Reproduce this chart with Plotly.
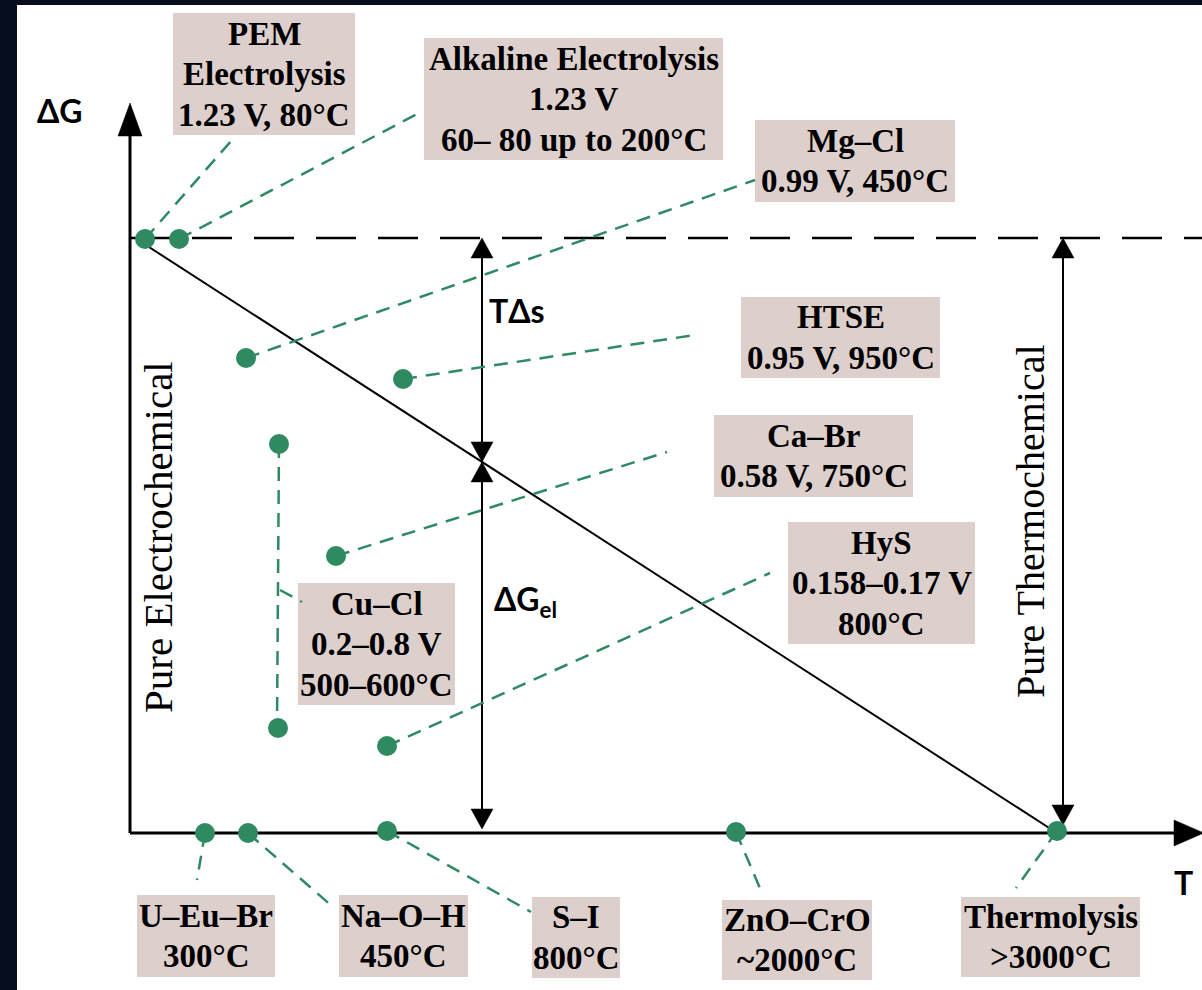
import plotly.graph_objects as go

# ---------------- data (T = temperature axis units, G = free-energy axis units) -------------
point_names = ["PEM", "Alkaline", "Mg–Cl", "HTSE", "Cu–Cl high", "Cu–Cl low", "Ca–Br",
               "HyS", "U–Eu–Br", "Na–O–H", "S–I", "ZnO–CrO", "Thermolysis"]
point_T = [15, 49, 116, 273, 149, 148, 206, 257, 75, 118, 257, 606, 927]
point_G = [594, 594, 475, 454, 389, 105, 277, 87, 0, 0, 2, 1, 2]

# leader lines: start (T,G) -> end (T,G)
leader_T0 = [15, 49, 116, 273, 149, 150, 206, 257, 75, 118, 257, 606, 927]
leader_G0 = [594, 594, 475, 454, 389, 243, 277, 87, 0, 0, 2, 1, 2]
leader_T1 = [102, 287, 625, 565, 147, 172, 537, 640, 67, 203, 401, 632, 886]
leader_G1 = [693, 719, 653, 498, 105, 231, 381, 260, -47, -74, -79, -60, -55]

box_labels = [
    "PEM<br>Electrolysis<br>1.23 V, 80°C",
    "Alkaline Electrolysis<br>1.23 V<br>60– 80 up to 200°C",
    "Mg–Cl<br>0.99 V, 450°C",
    "HTSE<br>0.95 V, 950°C",
    "Ca–Br<br>0.58 V, 750°C",
    "HyS<br>0.158–0.17 V<br>800°C",
    "Cu–Cl<br>0.2–0.8 V<br>500–600°C",
    "U–Eu–Br<br>300°C",
    "Na–O–H<br>450°C",
    "S–I<br>800°C",
    "ZnO–CrO<br>~2000°C",
    "Thermolysis<br>>3000°C",
]
box_T0 = [43, 294, 625, 611, 584, 658, 168, 7, 209, 402, 592, 831]
box_T1 = [225, 593, 825, 810, 783, 845, 325, 145, 338, 490, 742, 1010]
box_G0 = [698, 673, 631, 455, 336, 189, 128, -144, -144, -145, -147, -144]
box_G1 = [820, 795, 713, 536, 418, 311, 250, -62, -62, -64, -67, -64]

G_max = 595          # ΔG level (dashed line)
T_end = 927          # temperature where ΔG reaches zero
T_line_start = 5
T_axis_end = 1074
G_axis_end = 730
T_mid_arrow = 352
T_right_arrow = 933

# ---------------- styles ----------------
BG_DARK = "#060d1c"
GREEN = "#2f8a62"
BOX_FILL = "#dccfcc"
SERIF = "Liberation Serif, Times New Roman, serif"
SANS = "Lato, Open Sans, sans-serif"
BOX_FONT = 33
LINE_STEP = 40.5

fig = go.Figure()


def tri(tip_x, tip_y, direction, length, width):
    h = width / 2
    if direction == "up":
        return [tip_x, tip_x - h, tip_x + h, tip_x, None], [tip_y, tip_y - length, tip_y - length, tip_y, None]
    if direction == "down":
        return [tip_x, tip_x - h, tip_x + h, tip_x, None], [tip_y, tip_y + length, tip_y + length, tip_y, None]
    return [tip_x, tip_x - length, tip_x - length, tip_x, None], [tip_y, tip_y - h, tip_y + h, tip_y, None]


# axes lines
fig.add_trace(go.Scatter(x=[0, 0, None, 0, T_axis_end - 28], y=[G_axis_end - 30, 0, None, 0, 0],
                         mode="lines", line=dict(color="black", width=3), hoverinfo="skip"))
# dashed ΔG level
fig.add_trace(go.Scatter(x=[0, T_axis_end], y=[G_max, G_max], mode="lines",
                         line=dict(color="black", width=2.5, dash="40px,22px"), hoverinfo="skip"))
# diagonal
fig.add_trace(go.Scatter(x=[T_line_start, T_end], y=[G_max, 0], mode="lines",
                         line=dict(color="black", width=2), hoverinfo="skip"))
# double arrows
G_cross = G_max * (1 - (T_mid_arrow - T_line_start) / (T_end - T_line_start))
fig.add_trace(go.Scatter(x=[T_mid_arrow, T_mid_arrow, None, T_right_arrow, T_right_arrow],
                         y=[G_max - 10, 6, None, G_max - 10, 10], mode="lines",
                         line=dict(color="black", width=2), hoverinfo="skip"))

ax_x, ax_y = [], []
for tx, ty, d, L, W in [
    (0, G_axis_end, "up", 33, 24),
    (T_axis_end, 0, "right", 30, 26),
    (T_mid_arrow, G_max, "up", 20, 22),
    (T_mid_arrow, G_cross, "down", 20, 22),
    (T_mid_arrow, G_cross, "up", 20, 22),
    (T_mid_arrow, 4, "down", 20, 22),
    (T_right_arrow, G_max, "up", 20, 22),
    (T_right_arrow, 8, "down", 20, 22),
]:
    xs, ys = tri(tx, ty, d, L, W)
    ax_x += xs
    ax_y += ys
fig.add_trace(go.Scatter(x=ax_x, y=ax_y, mode="lines", fill="toself", fillcolor="black",
                         line=dict(color="black", width=0.5), hoverinfo="skip"))

# leader lines
lx, ly = [], []
for a, b, c, d in zip(leader_T0, leader_G0, leader_T1, leader_G1):
    lx += [a, c, None]
    ly += [b, d, None]
fig.add_trace(go.Scatter(x=lx, y=ly, mode="lines",
                         line=dict(color=GREEN, width=2.5, dash="14px,9px"), hoverinfo="skip"))

# points
fig.add_trace(go.Scatter(x=point_T, y=point_G, mode="markers", text=point_names,
                         marker=dict(color=GREEN, size=20, line=dict(width=0)), hoverinfo="text"))

# shapes: white panel and label boxes
shapes = [dict(type="rect", xref="x", yref="y", x0=-113, x1=1072, y0=-157, y1=828,
               fillcolor="white", line=dict(width=0), layer="below")]
for x0, x1, y0, y1 in zip(box_T0, box_T1, box_G0, box_G1):
    shapes.append(dict(type="rect", xref="x", yref="y", x0=x0, x1=x1, y0=y0, y1=y1,
                       fillcolor=BOX_FILL, line=dict(width=0), layer="below"))

annotations = []
for lab, x0, x1, y0, y1 in zip(box_labels, box_T0, box_T1, box_G0, box_G1):
    lines = lab.split("<br>")
    n = len(lines)
    xc, yc = (x0 + x1) / 2, (y0 + y1) / 2
    for i, ln in enumerate(lines):
        annotations.append(dict(x=xc, y=yc + ((n - 1) / 2 - i) * LINE_STEP, xref="x", yref="y",
                                text="<b>" + ln + "</b>", showarrow=False,
                                xanchor="center", yanchor="middle",
                                font=dict(family=SERIF, size=BOX_FONT, color="black")))

annotations += [
    dict(x=-70, y=723, text="<b>ΔG</b>", showarrow=False, xref="x", yref="y",
         font=dict(family=SANS, size=32, color="black")),
    dict(x=1053, y=-49, text="<b>T</b>", showarrow=False, xref="x", yref="y",
         font=dict(family=SANS, size=32, color="black")),
    dict(x=387, y=523, text="<b>TΔs</b>", showarrow=False, xref="x", yref="y",
         font=dict(family=SANS, size=32, color="black")),
    dict(x=362, y=232, text="<b>ΔG<sub>el</sub></b>", showarrow=False, xref="x", yref="y",
         xanchor="left", font=dict(family=SANS, size=32, color="black")),
    dict(x=28, y=296, text="Pure Electrochemical", textangle=-90, showarrow=False, xref="x", yref="y",
         font=dict(family=SERIF, size=41, color="black")),
    dict(x=900, y=312, text="Pure Thermochemical", textangle=-90, showarrow=False, xref="x", yref="y",
         font=dict(family=SERIF, size=40, color="black")),
]

fig.update_layout(
    width=1202, height=990, autosize=False,
    margin=dict(l=0, r=0, t=0, b=0, pad=0),
    paper_bgcolor=BG_DARK, plot_bgcolor=BG_DARK,
    showlegend=False,
    xaxis=dict(range=[-130, 1072], visible=False, fixedrange=True),
    yaxis=dict(range=[-157, 833], visible=False, fixedrange=True),
    shapes=shapes, annotations=annotations,
)

fig.write_html("out.html", config={"displayModeBar": False},
               post_script="document.body.style.margin='0';document.body.style.background='%s';" % BG_DARK)
